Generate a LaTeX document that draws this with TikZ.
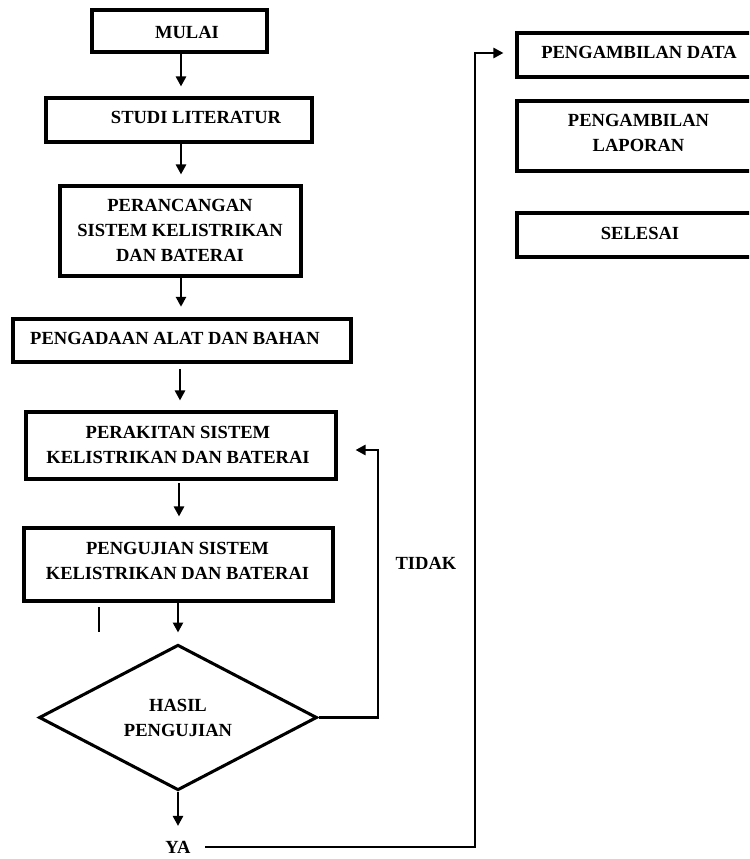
\documentclass[tikz,border=0pt]{standalone}
\usepackage{fontspec}
\setmainfont{Liberation Serif}
\usetikzlibrary{arrows.meta,fit,shapes.geometric}
\begin{document}
\begin{tikzpicture}[x=0.75pt,y=-0.75pt,
  box/.style={draw, line width=2.3pt, inner sep=0pt},
  lbl/.style={font=\bfseries\fontsize{13.9}{18.75}\selectfont, align=center, inner sep=0pt},
  arr/.style={line width=2.2pt, -{Triangle[length=7.5pt,width=7.5pt]}},
  link/.style={line width=2.2pt}]
\useasboundingbox (0,0) rectangle (749,859);
\clip (0,0) rectangle (749,859);

% boxes
\node[box, fit={(92,10) (267,52)}] (mulai) {};
\node[box, fit={(46,98) (312,142)}] (studi) {};
\node[box, fit={(60,186) (301,276)}] (peran) {};
\node[box, fit={(13,319) (351,362)}] (adaan) {};
\node[box, fit={(26,412) (336,479)}] (rakit) {};
\node[box, fit={(24,528) (333,601)}] (uji) {};
\node[box, fit={(517,33) (761,77)}] (data) {};
\node[box, fit={(517,101) (761,171)}] (lapor) {};
\node[box, fit={(517,213) (761,257)}] (selesai) {};
\node[draw, diamond, line width=2.3pt, inner sep=0pt, minimum width=208.5pt, minimum height=104.25pt,
      font=\bfseries\fontsize{13.9}{18.75}\selectfont, align=center] (hasil) at (178,717.5) {HASIL\\PENGUJIAN};

% labels
\node[lbl] (tmulai) at (187,32) {MULAI};
\node[lbl] (tstudi) at (196,117) {STUDI LITERATUR};
\node[lbl] (tperan) at (180,230) {PERANCANGAN\\SISTEM KELISTRIKAN\\DAN BATERAI};
\node[lbl] (tadaan) at (175,338) {PENGADAAN ALAT DAN BAHAN};
\node[lbl] (trakit) at (178,444.5) {PERAKITAN SISTEM\\KELISTRIKAN DAN BATERAI};
\node[lbl] (tuji) at (177.5,560.5) {PENGUJIAN SISTEM\\KELISTRIKAN DAN BATERAI};
\node[lbl] (ya) at (178,847) {YA};
\node[lbl] (tidak) at (426,563) {TIDAK};
\node[lbl] (tdata) at (639,52) {PENGAMBILAN DATA};
\node[lbl] (tlapor) at (638.5,132.5) {PENGAMBILAN\\LAPORAN};
\node[lbl] (tselesai) at (640,233) {SELESAI};

% guide coordinates
\coordinate (c181) at (181,0);
\coordinate (c180) at (180,0);
\coordinate (c179) at (179,0);
\coordinate (c178) at (178,0);
\coordinate (tk) at (378,450);
\coordinate (yk) at (475,53);

% connectors
\draw[arr, shorten >=7.5pt] (mulai.south -| c181) -- (studi.north -| c181);
\draw[arr, shorten >=7.5pt] (studi.south -| c181) -- (peran.north -| c181);
\draw[arr, shorten >=8pt] (peran.south -| c181) -- (adaan.north -| c181);
\draw[arr, shorten <=4pt, shorten >=7.5pt] (adaan.south -| c180) -- (rakit.north -| c180);
\draw[arr, shorten <=2pt, shorten >=7.5pt] (rakit.south -| c179) -- (uji.north -| c179);
\draw[arr, shorten >=8pt] (uji.south -| c178) -- (hasil.north -| c178);
\draw[arr, shorten >=11pt] (hasil.south -| c178) -- (ya.north -| c178);
\draw[arr, shorten >=13.5pt] (hasil.east) -| (tk) -- (rakit.east |- tk);
\draw[arr, shorten <=11pt, shorten >=9pt] (ya.east) -| (yk) -- (data.west |- yk);

% stray mark
\coordinate (s1) at (99,607);
\coordinate (s2) at (99,632);
\draw[line width=1.2pt] (s1) -- (s2);
\end{tikzpicture}
\end{document}
